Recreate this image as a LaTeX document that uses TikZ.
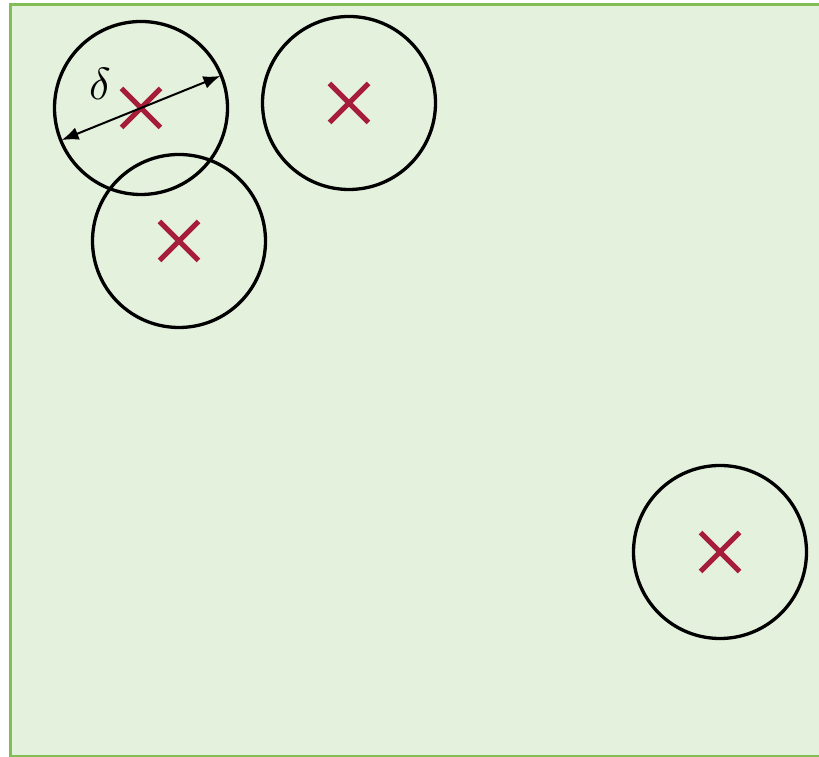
\documentclass[tikz,border=0pt]{standalone}
\usetikzlibrary{shapes.misc,arrows.meta}
\definecolor{bgfill}{HTML}{E4F1DC}
\definecolor{bgline}{HTML}{82BD55}
\definecolor{xred}{HTML}{A51D38}
\begin{document}
\begin{tikzpicture}[x=1pt,y=1pt,
  ball/.style={circle,draw=black,line width=3.3pt,minimum size=173pt,inner sep=0pt},
  xmark/.style={cross out,draw=xred,line width=5pt,minimum size=34pt,inner sep=0pt}]
\useasboundingbox (0,0) rectangle (819,757);
\begin{scope}
\clip (0,0) rectangle (819,757);
\draw[fill=bgfill,draw=bgline,line width=3.5pt] (10.5,0) rectangle (840,752.5);
\end{scope}
\node[ball] (c1) at (141,649) {};
\node[ball] (c2) at (349,654) {};
\node[ball] (c3) at (179,516) {};
\node[ball] (c4) at (720,205) {};
\node[xmark] (x1) at (c1) {};
\node[xmark] (x2) at (c2) {};
\node[xmark] (x3) at (c3) {};
\node[xmark] (x4) at (c4) {};
\draw[{Latex[length=17pt,width=13pt]}-{Latex[length=17pt,width=13pt]},line width=2pt,shorten <=2.5pt,shorten >=2.5pt] (c1.202.5) -- (c1.22.5);
\node[inner sep=0pt,scale=4.5] (d) at (100,673) {$\delta$};
\end{tikzpicture}
\end{document}
